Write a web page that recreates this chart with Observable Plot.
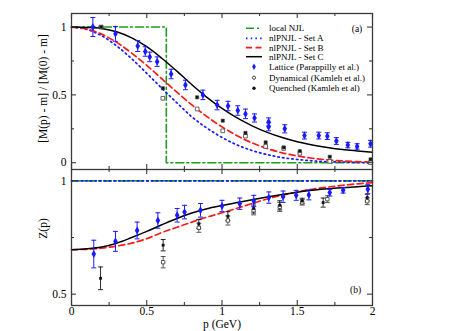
<!DOCTYPE html>
<html><head><meta charset="utf-8">
<script src="https://cdn.jsdelivr.net/npm/d3@7"></script>
<script src="https://cdn.jsdelivr.net/npm/@observablehq/plot@0.6"></script>
<style>
body{margin:0;background:#fff;}
#chart{position:relative;width:468px;height:331px;}
#chart svg{display:block;position:absolute;left:0;}
</style></head><body><div id="chart"></div>
<script>
// ---------- data ----------
const pGrid = [0,0.1,0.2,0.3,0.4,0.5,0.6,0.7,0.8,0.9,1.0,1.1,1.2,1.3,1.4,1.5,1.6,1.7,1.8,1.9,2.0];
const massSetA = [1.000,0.983,0.936,0.861,0.766,0.659,0.549,0.442,0.338,0.255,0.186,0.131,0.090,0.060,0.038,0.024,0.014,0.008,0.005,0.002,0.001];
const massSetB = [1.000,0.987,0.948,0.887,0.808,0.717,0.619,0.520,0.426,0.340,0.264,0.199,0.146,0.105,0.073,0.050,0.033,0.021,0.013,0.008,0.005];
const massSetC = [1.000,0.997,0.990,0.965,0.920,0.855,0.770,0.675,0.575,0.482,0.400,0.330,0.272,0.224,0.186,0.155,0.131,0.112,0.097,0.087,0.078];
const njlP = [0,0.63,0.63,2];
const njlMass = [1,1,0,0];
const njlZ = [1,1];
const njlZP = [0,2];
const zSetA = [1,1];
const zSetB = [0.696,0.698,0.703,0.712,0.725,0.745,0.772,0.795,0.818,0.840,0.859,0.879,0.900,0.920,0.937,0.951,0.963,0.972,0.980,0.987,0.992];
const zSetC = [0.696,0.700,0.708,0.725,0.750,0.777,0.806,0.834,0.858,0.877,0.891,0.904,0.917,0.929,0.940,0.950,0.958,0.965,0.970,0.974,0.978];

const latMP = [0.142,0.292,0.44,0.49,0.52,0.569,0.662,0.757,0.873,0.968,1.04,1.105,1.156,1.216,1.31,1.31,1.417,1.548,1.643,1.70,1.76,1.836,1.898,1.987];
const latM  = [1.00,0.95,0.86,0.82,0.78,0.745,0.654,0.573,0.50,0.425,0.418,0.385,0.36,0.33,0.30,0.265,0.25,0.20,0.20,0.196,0.16,0.13,0.12,0.14];
const latME = [0.07,0.055,0.04,0.035,0.035,0.035,0.035,0.035,0.035,0.035,0.035,0.035,0.035,0.03,0.03,0.03,0.03,0.025,0.025,0.025,0.025,0.02,0.02,0.025];
const dynMP = [0.197,0.607,0.835,1.005,1.156,1.29,1.41,1.517,1.716,1.987];
const dynM  = [1.0,0.475,0.396,0.235,0.196,0.12,0.105,0.07,0.01,0.0];
const queMP = [0.197,0.607,0.835,1.005,1.156,1.29,1.41,1.517,1.716,1.987];
const queM  = [1.0,0.549,0.482,0.31,0.22,0.15,0.113,0.086,0.044,0.025];

const latZP = [0.148,0.292,0.436,0.574,0.702,0.751,0.857,1.0,1.118,1.211,1.311,1.406,1.493,1.577,1.716,1.805,1.969];
const latZ  = [0.677,0.733,0.781,0.825,0.848,0.862,0.87,0.889,0.899,0.911,0.926,0.930,0.936,0.938,0.948,0.958,0.963];
const latZE = [0.061,0.044,0.037,0.034,0.03,0.03,0.03,0.025,0.025,0.025,0.025,0.025,0.022,0.022,0.015,0.012,0.02];
const queZP = [0.193,0.609,0.846,1.039,1.21,1.384,1.533,1.672,1.965];
const queZ  = [0.57,0.716,0.81,0.844,0.878,0.892,0.911,0.904,0.926];
const queZE = [0.05,0.025,0.02,0.02,0.02,0.02,0.012,0.02,0.015];
const dynZP = [0.609,0.846,1.039,1.21,1.384,1.533,1.70,1.965];
const dynZ  = [0.641,0.793,0.825,0.87,0.885,0.905,0.919,0.91];
const dynZE = [0.025,0.02,0.02,0.02,0.02,0.012,0.015,0.015];

const xMajor = [0,0.5,1,1.5,2];
const xMinor = [0.25,0.75,1.25,1.75];
const mMajor = [0,0.5,1];
const mMinor = [0.25,0.75];
const zMajor = [0.5,1];
const zMinor = [0.75];
const legendLabels = ["local NJL","nlPNJL - Set A","nlPNJL - Set B","nlPNJL - Set C","Lattice (Parappilly et al.)","Dynamical (Kamleh et al.)","Quenched (Kamleh et al)"];

// ---------- helpers ----------
const zip = (xs, ys, es) => xs.map((x,i)=>({x, y:ys[i], e: es ? es[i] : 0}));
const FONT = "Liberation Serif, Times New Roman, serif";
const W = 468, ML = 71, MR = 96, PW = W-ML-MR;
const capSym = {draw(ctx,size){const w=Math.sqrt(size/Math.PI); ctx.moveTo(-w,0); ctx.lineTo(w,0);}};
const GREEN="#1e9a1e", BLUE="#1a1aff", RED="#ff1a1a", FRAME="#3a3a3a";

function ticks(major, minor, axis, plotH) {
  const out = [];
  if (axis === "x") {
    out.push(Plot.ruleX(major,{stroke:FRAME,strokeWidth:1.1,insetTop:plotH-5}));
    out.push(Plot.ruleX(minor,{stroke:FRAME,strokeWidth:1.1,insetTop:plotH-3}));
    out.push(Plot.ruleX(major,{stroke:FRAME,strokeWidth:1.1,insetBottom:plotH-5}));
    out.push(Plot.ruleX(minor,{stroke:FRAME,strokeWidth:1.1,insetBottom:plotH-3}));
  } else {
    out.push(Plot.ruleY(major,{stroke:FRAME,strokeWidth:1.1,insetRight:PW-5}));
    out.push(Plot.ruleY(minor,{stroke:FRAME,strokeWidth:1.1,insetRight:PW-3}));
    out.push(Plot.ruleY(major,{stroke:FRAME,strokeWidth:1.1,insetLeft:PW-5}));
    out.push(Plot.ruleY(minor,{stroke:FRAME,strokeWidth:1.1,insetLeft:PW-3}));
  }
  return out;
}
function errMarks(data, color, sw) {
  return [
    Plot.ruleX(data,{x:"x",y1:d=>d.y-d.e,y2:d=>d.y+d.e,stroke:color,strokeWidth:sw}),
    Plot.dot(data,{x:"x",y:d=>d.y-d.e,symbol:capSym,r:2.5,stroke:color,strokeWidth:sw,fill:"none"}),
    Plot.dot(data,{x:"x",y:d=>d.y+d.e,symbol:capSym,r:2.5,stroke:color,strokeWidth:sw,fill:"none"})
  ];
}

// ---------- top panel ----------
const topH = 169, topMT = 13, topPH = topH-topMT;
const curveA = zip(pGrid, massSetA), curveB = zip(pGrid, massSetB), curveC = zip(pGrid, massSetC);
const njl = zip(njlP, njlMass);
const latM_d = zip(latMP, latM, latME), dynM_d = zip(dynMP, dynM), queM_d = zip(queMP, queM);

const topPlot = Plot.plot({
  width: W, height: topH, marginLeft: ML, marginRight: MR, marginTop: topMT, marginBottom: 0,
  style: {fontFamily: FONT, fontSize: "11.5px", color: "#000", background: "transparent"},
  x: {domain: [0,2], axis: null},
  y: {domain: [-0.05,1.1], axis: null},
  marks: [
    Plot.line(njl,{x:"x",y:"y",stroke:GREEN,strokeWidth:1.6,strokeDasharray:"8,3,2,3"}),
    Plot.line(curveA,{x:"x",y:"y",stroke:BLUE,strokeWidth:1.7,strokeDasharray:"1.5,3.2",curve:"catmull-rom"}),
    Plot.line(curveB,{x:"x",y:"y",stroke:RED,strokeWidth:1.7,strokeDasharray:"6,3.5",curve:"catmull-rom"}),
    Plot.line(curveC,{x:"x",y:"y",stroke:"#000",strokeWidth:1.5,curve:"catmull-rom"}),
    Plot.dot(dynM_d,{x:"x",y:"y",symbol:"square",r:2.1,stroke:"#555",strokeWidth:0.9,fill:"#fff"}),
    Plot.dot(queM_d,{x:"x",y:"y",symbol:"square",r:1.8,fill:"#111",stroke:"#444",strokeWidth:0.6}),
    ...errMarks(latM_d, BLUE, 1),
    Plot.dot(latM_d,{x:"x",y:"y",symbol:"diamond",r:2.4,fill:BLUE}),
    Plot.frame({stroke:FRAME,strokeWidth:1.3}),
    ...ticks(xMajor, xMinor, "x", topPH),
    ...ticks(mMajor, mMinor, "y", topPH),
    Plot.axisY({ticks:mMajor,tickSize:0,tickPadding:5,tickFormat:d=>String(d),label:null,fontSize:11.5}),
    Plot.text(["[M(p) - m] / [M(0) - m]"],{frameAnchor:"left",textAnchor:"middle",lineAnchor:"middle",rotate:-90,dx:-28,dy:-3,fontSize:11.5})
  ]
});

// ---------- bottom panel ----------
const botH = 162, botMB = 26, botPH = botH-botMB;
const zB = zip(pGrid, zSetB), zC = zip(pGrid, zSetC);
const zN = zip(njlZP, njlZ), zA = zip(njlZP, zSetA);
const latZ_d = zip(latZP, latZ, latZE), queZ_d = zip(queZP, queZ, queZE), dynZ_d = zip(dynZP, dynZ, dynZE);

const botPlot = Plot.plot({
  width: W, height: botH, marginLeft: ML, marginRight: MR, marginTop: 0, marginBottom: botMB,
  style: {fontFamily: FONT, fontSize: "11.5px", color: "#000", background: "transparent"},
  x: {domain: [0,2], axis: null},
  y: {domain: [0.45,1.05], axis: null},
  marks: [
    Plot.line(zN,{x:"x",y:"y",stroke:GREEN,strokeWidth:1.6,strokeDasharray:"8,3,2,3"}),
    Plot.line(zA,{x:"x",y:"y",stroke:BLUE,strokeWidth:1.7,strokeDasharray:"1.5,3.2"}),
    Plot.line(zB,{x:"x",y:"y",stroke:RED,strokeWidth:1.7,strokeDasharray:"6,3.5",curve:"catmull-rom"}),
    Plot.line(zC,{x:"x",y:"y",stroke:"#000",strokeWidth:1.5,curve:"catmull-rom"}),
    ...errMarks(dynZ_d, "#444", 0.9),
    ...errMarks(queZ_d, "#111", 0.9),
    Plot.dot(dynZ_d,{x:"x",y:"y",symbol:"square",r:1.9,stroke:"#444",strokeWidth:0.9,fill:"#fff"}),
    Plot.dot(queZ_d,{x:"x",y:"y",symbol:"square",r:1.6,fill:"#111"}),
    ...errMarks(latZ_d, BLUE, 1),
    Plot.dot(latZ_d,{x:"x",y:"y",symbol:"diamond",r:2.4,fill:BLUE}),
    Plot.frame({stroke:FRAME,strokeWidth:1.3}),
    ...ticks(xMajor, xMinor, "x", botPH),
    ...ticks(zMajor, zMinor, "y", botPH),
    Plot.axisY({ticks:zMajor,tickSize:0,tickPadding:5,tickFormat:d=>String(d),label:null,fontSize:11.5}),
    Plot.axisX({ticks:xMajor,tickSize:0,tickPadding:1,tickFormat:d=>String(d),label:null,fontSize:11.5}),
    Plot.text(["p (GeV)"],{frameAnchor:"bottom",lineAnchor:"middle",dy:19,fontSize:11.5}),
    Plot.text(["Z(p)"],{frameAnchor:"left",textAnchor:"middle",lineAnchor:"middle",rotate:-90,dx:-28,dy:-9,fontSize:11.5}),
    Plot.text(["(b)"],{frameAnchor:"bottom-right",textAnchor:"middle",lineAnchor:"middle",dx:-17,dy:-16,fontSize:9.5})
  ]
});

const chart = document.getElementById("chart");
topPlot.style.top = "0px";
botPlot.style.top = topH + "px";
chart.appendChild(botPlot);
chart.appendChild(topPlot);

// ---------- legend (top panel) ----------
const g = d3.select(topPlot).append("g").attr("font-family", FONT).attr("font-size", 9).attr("text-anchor","start");
const rowsY = [28.3, 38.3, 47.7, 56.7, 66.7, 77.7, 88.3];
const lx1 = 246, lx2 = 262, mx = 254, tx = 269;
const lineStyles = [
  {stroke:GREEN, dash:"8,3,2,3", w:1.6},
  {stroke:BLUE, dash:"1.5,3.2", w:1.7},
  {stroke:RED, dash:"6,3.5", w:1.7},
  {stroke:"#000", dash:null, w:1.5}
];
lineStyles.forEach((s,i)=>{
  const l = g.append("line").attr("x1",lx1).attr("x2",lx2).attr("y1",rowsY[i]).attr("y2",rowsY[i])
    .attr("stroke",s.stroke).attr("stroke-width",s.w);
  if (s.dash) l.attr("stroke-dasharray", s.dash);
});
g.append("path").attr("d", d3.symbol(d3.symbolDiamond, 12)()).attr("transform",`translate(${mx},${rowsY[4]})`).attr("fill",BLUE);
g.append("circle").attr("cx",mx).attr("cy",rowsY[5]).attr("r",1.6).attr("fill","#fff").attr("stroke","#333").attr("stroke-width",0.9);
g.append("circle").attr("cx",mx).attr("cy",rowsY[6]).attr("r",1.7).attr("fill","#111");
legendLabels.forEach((t,i)=>{
  g.append("text").attr("x",tx).attr("y",rowsY[i]).attr("dy","0.35em").attr("text-anchor","start").text(t);
});
g.append("text").attr("x",357).attr("y",28.3).attr("dy","0.35em").attr("text-anchor","middle").attr("font-size",9.5).text("(a)");
</script></body></html>
